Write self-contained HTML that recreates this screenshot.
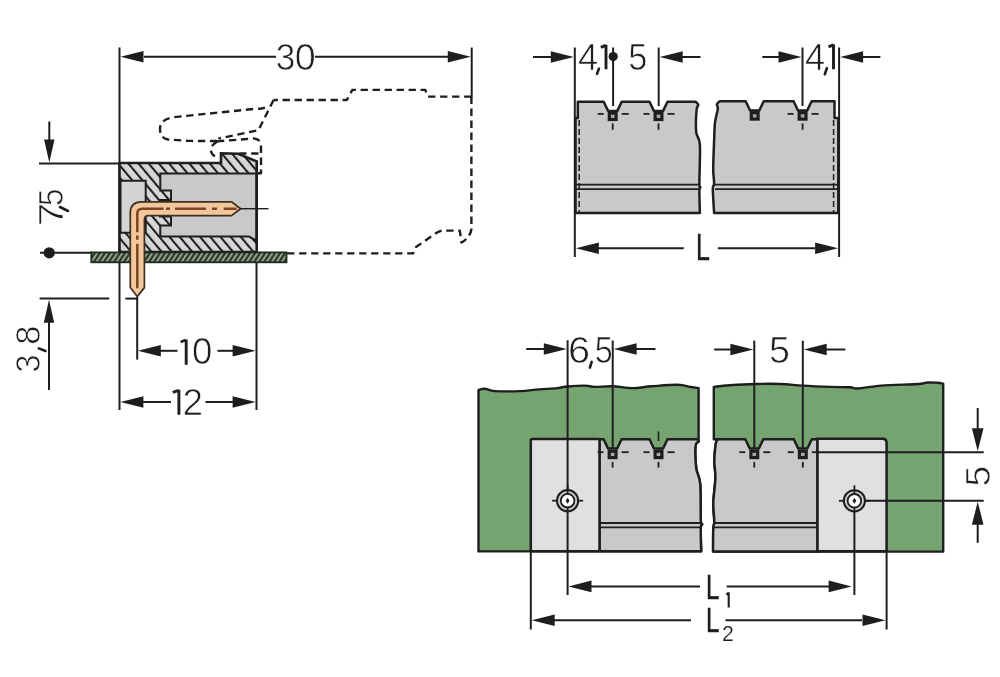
<!DOCTYPE html>
<html><head><meta charset="utf-8"><style>
html,body{margin:0;padding:0;background:#fff;}
svg{display:block;will-change:transform;}
text{font-family:"Liberation Sans",sans-serif;}
</style></head><body>
<svg width="1000" height="677" viewBox="0 0 1000 677">
<defs>
<pattern id="hatch" patternUnits="userSpaceOnUse" width="7.8" height="7.8" patternTransform="rotate(-40)">
<rect width="7.8" height="7.8" fill="#d5d6d8"/><line x1="1" y1="0" x2="1" y2="7.8" stroke="#1e1e1e" stroke-width="2.1"/></pattern>
<pattern id="pcbh" patternUnits="userSpaceOnUse" width="4.2" height="4.2" patternTransform="rotate(33)">
<rect width="4.2" height="4.2" fill="#2b3827"/><line x1="1" y1="0" x2="1" y2="4.2" stroke="#98a893" stroke-width="1.9"/></pattern>
</defs>
<rect width="1000" height="677" fill="#ffffff"/>
<g font-family="'Liberation Sans', sans-serif" fill="#1e1e1e">
<line x1="119.5" y1="47.5" x2="119.5" y2="410" stroke="#1e1e1e" stroke-width="2.0" />
<line x1="471.7" y1="47.5" x2="471.7" y2="97" stroke="#1e1e1e" stroke-width="2.0" />
<line x1="144" y1="56.7" x2="276" y2="56.7" stroke="#1e1e1e" stroke-width="2.0" />
<line x1="315" y1="56.7" x2="448" y2="56.7" stroke="#1e1e1e" stroke-width="2.0" />
<polygon points="120.5,56.7 143.5,50.9 143.5,62.5" fill="#1e1e1e"/>
<polygon points="470.8,56.7 447.8,50.9 447.8,62.5" fill="#1e1e1e"/>
<text transform="translate(275.63 69.88) scale(0.946 1)" font-size="37.17" stroke="#fff" stroke-width="0.7" >3</text>
<text transform="translate(294.74 69.88) scale(1.014 1)" font-size="37.17" stroke="#fff" stroke-width="0.7" >0</text>
<path d="M 471.4 96.6 L 428 96.6 L 425.3 89.9 L 352.4 89.9 L 346.8 100 L 273.6 100" fill="none" stroke="#1e1e1e" stroke-width="2.4" stroke-linejoin="round" stroke-dasharray="7.3,4.7"/>
<path d="M 471.4 96.6 L 471.4 229 Q 470.5 237 461.6 242.6 L 459.8 230.6 L 442 230.6 Q 437 232 432 236 L 416 247 Q 414.5 250 413 253.4 L 287 253.4" fill="none" stroke="#1e1e1e" stroke-width="2.4" stroke-linejoin="round" stroke-dasharray="7.3,4.7"/>
<path d="M 273.6 100 L 258.4 130.2 L 218.4 138.6" fill="none" stroke="#1e1e1e" stroke-width="2.4" stroke-linejoin="round" stroke-dasharray="7.3,4.7"/>
<path d="M 265 107.6 Q 261 109.2 253.6 108.9 L 172 117.4 Q 160 120 160 129 Q 160 138 168 139.5 L 188 140.9 L 217 141" fill="none" stroke="#1e1e1e" stroke-width="2.4" stroke-linejoin="round" stroke-dasharray="7.3,4.7"/>
<path d="M 217 141.4 L 253.6 138.4 Q 261 139 261 146 L 261 173.2 L 257 173.2" fill="none" stroke="#1e1e1e" stroke-width="2.4" stroke-linejoin="round" stroke-dasharray="7.3,4.7"/>
<path d="M 217.5 141.2 Q 207 148 213 155 L 216 157" fill="none" stroke="#1e1e1e" stroke-width="2.4" stroke-linejoin="round" stroke-dasharray="7.3,4.7"/>
<path d="M 239.2 153.5 L 261 153.5" fill="none" stroke="#1e1e1e" stroke-width="2.4" stroke-linejoin="round" stroke-dasharray="7.3,4.7"/>
<path d="M 119.5 163 L 221 163 L 221 153.3 L 238.2 153.8 L 256.7 161.4 L 256.7 252 L 119.5 252 Z" fill="url(#hatch)"/>
<path d="M 160.3 173.5 L 256.5 173.5 L 256.5 240.6 L 249 236.6 L 160.3 236.6 L 160.3 225.5 L 171 225.5 L 171 216.5 L 160 216.5 L 160 200 L 171 200 L 171 190.6 L 160.3 190.6 Z" fill="#c9c9cb" stroke="#1e1e1e" stroke-width="2"/>
<path d="M 120.5 180.8 L 145.7 180.8 L 145.7 232.8 L 120.5 232.8 Z" fill="#d3d4d6" stroke="#1e1e1e" stroke-width="2"/>
<path d="M 119.5 163 L 221 163 L 221 153.3 L 238.2 153.8 L 256.7 161.4 L 256.7 252 L 119.5 252 Z" fill="none" stroke="#1e1e1e" stroke-width="2.6"/>
<line x1="39" y1="163.6" x2="119.5" y2="163.6" stroke="#1e1e1e" stroke-width="2.0" />
<line x1="256.5" y1="252" x2="256.5" y2="410" stroke="#1e1e1e" stroke-width="2.0" />
<rect x="91.3" y="252.4" width="195.2" height="9.9" fill="url(#pcbh)" stroke="#1f2a1c" stroke-width="1.8"/>
<path d="M 137.2 296.6 L 130.3 287.6 L 130.3 213 Q 130.3 201.8 141.5 201.8 L 231.5 201.8 L 240.6 208.7 L 231.5 215.6 L 148.5 215.6 Q 144.4 215.6 144.4 219.7 L 144.4 287.6 Z" fill="#f3c79c" stroke="#3f3020" stroke-width="1.7" stroke-linejoin="round"/>
<path d="M 137.3 288.3 L 137.3 243.7 M 137.3 239.8 L 137.3 235.4 M 137.3 232.2 L 137.3 213.5 Q 137.3 208.7 142.1 208.7 L 163.6 208.7 M 166 208.7 L 170 208.7 M 175 208.7 L 206 208.7 M 212 208.7 L 217 208.7 M 223.7 208.7 L 236.7 208.7" fill="none" stroke="#7e4620" stroke-width="2.5"/>
<line x1="240" y1="208.7" x2="268.5" y2="208.7" stroke="#1e1e1e" stroke-width="1.4" />
<circle cx="49.2" cy="252.8" r="5.6" fill="#1e1e1e"/>
<line x1="40" y1="252.8" x2="92" y2="252.8" stroke="#1e1e1e" stroke-width="2.0" />
<line x1="49.3" y1="121.5" x2="49.3" y2="140" stroke="#1e1e1e" stroke-width="2.0" />
<polygon points="49.3,162.5 44.1,139.5 54.5,139.5" fill="#1e1e1e"/>
<line x1="39.6" y1="298.6" x2="109.2" y2="298.6" stroke="#1e1e1e" stroke-width="2.0" />
<line x1="125.4" y1="298.6" x2="137.5" y2="298.6" stroke="#1e1e1e" stroke-width="2.0" />
<polygon points="49.0,299.8 43.8,322.8 54.2,322.8" fill="#1e1e1e"/>
<line x1="49" y1="322" x2="49" y2="390" stroke="#1e1e1e" stroke-width="2.0" />
<line x1="137.2" y1="297" x2="137.2" y2="359.6" stroke="#1e1e1e" stroke-width="2.0" />
<text transform="translate(62.85 226.18) rotate(-90) scale(1.200 1)" font-size="35.35" stroke="#fff" stroke-width="0.7">7</text>
<text transform="translate(62.50 206.00) rotate(-90) scale(0.894 1)" font-size="34.84" stroke="#fff" stroke-width="0.7">5</text>
<line x1="60" y1="207" x2="68" y2="211" stroke="#1e1e1e" stroke-width="2.6" stroke-linecap="round"/>
<text transform="translate(39.71 372.46) rotate(-90) scale(0.942 1)" font-size="34.20" stroke="#fff" stroke-width="0.7">3</text>
<text transform="translate(39.71 344.81) rotate(-90) scale(1.008 1)" font-size="34.20" stroke="#fff" stroke-width="0.7">8</text>
<line x1="38.8" y1="348.4" x2="45.5" y2="351" stroke="#1e1e1e" stroke-width="2.6" stroke-linecap="round"/>
<polygon points="137.8,350.8 160.8,345.0 160.8,356.6" fill="#1e1e1e"/>
<line x1="160" y1="350.8" x2="177.5" y2="350.8" stroke="#1e1e1e" stroke-width="2.0" />
<path d="M 180.6 342.0 L 185.9 340.0 M 186.2 339.4 L 186.2 364.7" fill="none" stroke="#1e1e1e" stroke-width="2.9"/>
<text transform="translate(191.98 364.49) scale(1.005 1)" font-size="36.47" stroke="#fff" stroke-width="0.7" >0</text>
<line x1="217.5" y1="350.8" x2="236" y2="350.8" stroke="#1e1e1e" stroke-width="2.0" />
<polygon points="255.6,350.8 232.6,345.0 232.6,356.6" fill="#1e1e1e"/>
<polygon points="120.4,402.0 143.4,396.2 143.4,407.8" fill="#1e1e1e"/>
<line x1="143" y1="402" x2="171" y2="402" stroke="#1e1e1e" stroke-width="2.0" />
<path d="M 172.8 392.3 L 178.6 390.3 M 178.9 389.7 L 178.9 414.7" fill="none" stroke="#1e1e1e" stroke-width="2.9"/>
<text transform="translate(182.40 415.05) scale(1.002 1)" font-size="36.85" stroke="#fff" stroke-width="0.7" >2</text>
<line x1="205.5" y1="402" x2="236" y2="402" stroke="#1e1e1e" stroke-width="2.0" />
<polygon points="255.6,402.0 232.6,396.2 232.6,407.8" fill="#1e1e1e"/>
<path d="M 577.8 101.7 L 603.7 101.7 L 608.1 110.9 L 617.3 110.9 L 621.7 101.7 L 649.5 101.7 L 653.9 110.9 L 663.1 110.9 L 667.5 101.7 L 695.7 101.7 C 696.1 102.2 698.1 103.7 698.3 105.0 C 698.4 106.3 697.0 105.3 696.6 109.8 C 696.2 114.3 695.7 126.1 696.2 131.9 C 696.8 137.7 699.4 136.2 699.9 144.8 C 700.4 153.4 699.3 176.5 699.4 183.6 C 699.5 190.7 700.3 186.1 700.3 187.3 C 700.3 188.5 699.5 186.7 699.4 191.0 C 699.3 195.3 699.8 209.3 699.9 213.0 L 575.5 213 L 575.5 118 L 577.8 118 Z" fill="#c9c9cb" stroke="#1e1e1e" stroke-width="2.5" stroke-linejoin="round"/>
<line x1="579.2" y1="120" x2="579.2" y2="212" stroke="#1e1e1e" stroke-width="1.5" stroke-dasharray="6,3"/>
<line x1="576" y1="184.6" x2="700" y2="184.6" stroke="#1e1e1e" stroke-width="1.8" />
<line x1="576" y1="189.1" x2="700" y2="189.1" stroke="#1e1e1e" stroke-width="1.8" />
<path d="M 719.7 101.3 L 745.7 101.3 L 750.1 110.5 L 759.3 110.5 L 763.7 101.3 L 793.6 101.3 L 798.0 110.5 L 807.2 110.5 L 811.6 101.3 L 834.5 101.3 L 834.5 118.0 L 838.3 118.0 L 838.3 213.0 L 714.1 213.0 L 714.1 213.0 C 713.9 209.0 712.8 194.0 712.8 189.1 C 712.8 184.2 714.0 187.0 714.1 183.6 C 714.2 180.2 713.2 175.9 713.2 168.8 C 713.2 161.7 713.8 148.8 714.1 141.1 C 714.4 133.4 714.4 128.1 715.0 122.7 C 715.6 117.3 717.5 111.9 717.8 108.8 C 718.1 105.7 716.6 105.5 716.9 104.2 C 717.2 103.0 719.2 101.8 719.7 101.3 Z" fill="#c9c9cb" stroke="#1e1e1e" stroke-width="2.5" stroke-linejoin="round"/>
<line x1="833.6" y1="120" x2="833.6" y2="212" stroke="#1e1e1e" stroke-width="1.5" stroke-dasharray="6,3"/>
<line x1="715" y1="184.6" x2="838" y2="184.6" stroke="#1e1e1e" stroke-width="1.8" />
<line x1="715" y1="189.1" x2="838" y2="189.1" stroke="#1e1e1e" stroke-width="1.8" />
<rect x="609.3" y="113.1" width="6.8" height="6.4" fill="#a9a9a9" stroke="#1e1e1e" stroke-width="3.2"/>
<rect x="655.1" y="113.1" width="6.8" height="6.4" fill="#a9a9a9" stroke="#1e1e1e" stroke-width="3.2"/>
<rect x="751.3" y="112.7" width="6.8" height="6.4" fill="#a9a9a9" stroke="#1e1e1e" stroke-width="3.2"/>
<rect x="799.2" y="112.7" width="6.8" height="6.4" fill="#a9a9a9" stroke="#1e1e1e" stroke-width="3.2"/>
<line x1="597.7" y1="113.9" x2="603.7" y2="113.9" stroke="#1e1e1e" stroke-width="1.8" />
<line x1="621.7" y1="113.9" x2="628.7" y2="113.9" stroke="#1e1e1e" stroke-width="1.8" />
<line x1="612.7" y1="123.4" x2="612.7" y2="129.8" stroke="#1e1e1e" stroke-width="1.8" />
<line x1="643.5" y1="113.9" x2="649.5" y2="113.9" stroke="#1e1e1e" stroke-width="1.8" />
<line x1="667.5" y1="113.9" x2="674.5" y2="113.9" stroke="#1e1e1e" stroke-width="1.8" />
<line x1="658.5" y1="123.4" x2="658.5" y2="129.8" stroke="#1e1e1e" stroke-width="1.8" />
<line x1="787.6" y1="113.9" x2="793.6" y2="113.9" stroke="#1e1e1e" stroke-width="1.8" />
<line x1="811.6" y1="113.9" x2="818.6" y2="113.9" stroke="#1e1e1e" stroke-width="1.8" />
<line x1="802.6" y1="123.4" x2="802.6" y2="129.8" stroke="#1e1e1e" stroke-width="1.8" />
<line x1="574.8" y1="47.5" x2="574.8" y2="257" stroke="#1e1e1e" stroke-width="2.0" />
<line x1="613.1" y1="47.5" x2="613.1" y2="106" stroke="#1e1e1e" stroke-width="2.0" />
<line x1="658.7" y1="47.5" x2="658.7" y2="106" stroke="#1e1e1e" stroke-width="2.0" />
<line x1="802.5" y1="47.5" x2="802.5" y2="106" stroke="#1e1e1e" stroke-width="2.0" />
<line x1="839.1" y1="47.5" x2="839.1" y2="257" stroke="#1e1e1e" stroke-width="2.0" />
<circle cx="613.2" cy="56.6" r="4.6" fill="#1e1e1e"/>
<line x1="533" y1="57" x2="552" y2="57" stroke="#1e1e1e" stroke-width="2.0" />
<polygon points="573.8,57.0 550.8,51.2 550.8,62.8" fill="#1e1e1e"/>
<line x1="680" y1="57" x2="700.5" y2="57" stroke="#1e1e1e" stroke-width="2.0" />
<polygon points="659.7,57.0 682.7,51.2 682.7,62.8" fill="#1e1e1e"/>
<line x1="762.3" y1="57" x2="782" y2="57" stroke="#1e1e1e" stroke-width="2.0" />
<polygon points="801.5,57.0 778.5,51.2 778.5,62.8" fill="#1e1e1e"/>
<line x1="862" y1="57" x2="880.4" y2="57" stroke="#1e1e1e" stroke-width="2.0" />
<polygon points="840.1,57.0 863.1,51.2 863.1,62.8" fill="#1e1e1e"/>
<text transform="translate(578.03 69.55) scale(0.993 1)" font-size="36.51" stroke="#fff" stroke-width="0.7" >4</text>
<line x1="597.0" y1="73.8" x2="599.0" y2="68.6" stroke="#1e1e1e" stroke-width="2.6" stroke-linecap="round"/>
<path d="M 600.8 47.4 L 605.7 45.4 M 606.0 44.8 L 606.0 69.2" fill="none" stroke="#1e1e1e" stroke-width="2.9"/>
<text transform="translate(628.28 69.58) scale(0.924 1)" font-size="37.13" stroke="#fff" stroke-width="0.7" >5</text>
<text transform="translate(805.03 69.65) scale(0.966 1)" font-size="37.53" stroke="#fff" stroke-width="0.7" >4</text>
<line x1="824.8" y1="74.2" x2="826.9" y2="68.2" stroke="#1e1e1e" stroke-width="2.6" stroke-linecap="round"/>
<path d="M 828.5 46.8 L 833.2 44.8 M 833.5 44.2 L 833.5 69.3" fill="none" stroke="#1e1e1e" stroke-width="2.9"/>
<polygon points="575.8,248.2 598.8,242.4 598.8,254.0" fill="#1e1e1e"/>
<line x1="598" y1="248.2" x2="683.8" y2="248.2" stroke="#1e1e1e" stroke-width="2.0" />
<text transform="translate(695.89 260.25) scale(0.680 1)" font-size="36.65" stroke="#1e1e1e" stroke-width="0.5" >L</text>
<line x1="717.8" y1="248.2" x2="815" y2="248.2" stroke="#1e1e1e" stroke-width="2.0" />
<polygon points="838.1,248.2 815.1,242.4 815.1,254.0" fill="#1e1e1e"/>
<path d="M 478.5 390.0 C 479.6 389.8 482.2 388.6 485.0 388.8 C 487.8 389.0 489.2 390.7 495.0 391.1 C 500.8 391.5 512.7 391.4 520.0 391.1 C 527.3 390.8 532.5 389.9 538.8 389.4 C 545.0 388.9 552.7 388.6 557.5 388.1 C 562.3 387.6 562.9 386.9 567.5 386.5 C 572.1 386.1 580.4 385.5 585.0 385.6 C 589.6 385.7 590.4 386.8 595.0 386.9 C 599.6 387.0 606.2 386.1 612.5 386.3 C 618.8 386.5 626.0 388.1 632.5 388.1 C 639.0 388.1 643.8 386.9 651.3 386.3 C 658.8 385.8 671.0 384.7 677.5 384.8 C 684.0 384.9 686.5 386.3 690.0 386.9 C 693.5 387.4 697.2 387.9 698.6 388.1 L 698.6 439.3 L 698.6 441.5 C 698.1 442.2 696.0 441.5 695.6 446.0 C 695.2 450.5 695.5 462.2 696.3 468.5 C 697.1 474.8 699.5 475.2 700.2 483.8 C 701.0 492.4 700.5 513.7 700.8 520.4 C 701.1 527.1 702.2 522.9 702.2 524.2 C 702.2 525.5 701.0 523.5 700.8 528.0 C 700.6 532.5 701.1 547.4 701.2 551.3 L 478.5 551.4 Z" fill="#76a470" stroke="#1e1e1e" stroke-width="2.4" stroke-linejoin="round"/>
<path d="M 713.8 386.9 C 716.5 386.6 723.1 385.8 730.0 385.3 C 736.9 384.8 746.7 384.2 755.0 384.0 C 763.3 383.8 772.1 383.7 780.0 384.0 C 787.9 384.3 794.2 385.1 802.5 385.6 C 810.8 386.1 822.1 386.6 830.0 386.9 C 837.9 387.2 845.4 387.0 850.0 387.3 C 854.6 387.6 852.3 388.8 857.5 388.5 C 862.7 388.2 871.1 386.4 881.3 385.6 C 891.5 384.9 911.1 384.5 918.8 384.0 C 926.5 383.5 924.3 382.7 927.5 382.5 C 930.7 382.3 936.2 382.8 938.0 382.8 L 943.2 383.6 L 943.2 551.6 L 713.7 551.6 L 713.3 528.0 C 713.5 526.9 714.3 525.6 714.3 521.4 C 714.3 517.2 713.1 510.0 713.3 502.8 C 713.5 495.6 715.2 484.9 715.4 478.0 C 715.6 471.1 714.3 466.6 714.3 461.4 C 714.3 456.2 714.9 450.4 715.3 447.0 C 715.7 443.6 716.1 442.1 716.6 440.8 C 717.1 439.5 718.2 439.6 718.5 439.3 L 713.8 439.3 Z" fill="#76a470" stroke="#1e1e1e" stroke-width="2.4" stroke-linejoin="round"/>
<path d="M 599.5 439.3 L 603.6 439.3 L 608.0 448.5 L 617.2 448.5 L 621.6 439.3 L 649.5 439.3 L 653.9 448.5 L 663.1 448.5 L 667.5 439.3 L 697.6 439.3 C 697.8 439.7 698.9 440.4 698.6 441.5 C 698.3 442.6 696.0 441.5 695.6 446.0 C 695.2 450.5 695.5 462.2 696.3 468.5 C 697.1 474.8 699.5 475.2 700.2 483.8 C 701.0 492.4 700.5 513.7 700.8 520.4 C 701.1 527.1 702.2 522.9 702.2 524.2 C 702.2 525.5 701.0 523.5 700.8 528.0 C 700.6 532.5 701.1 547.4 701.2 551.3 L 599.5 551.3 Z" fill="#c9c9cb" stroke="#1e1e1e" stroke-width="2.5" stroke-linejoin="round"/>
<line x1="600" y1="523" x2="701" y2="523" stroke="#1e1e1e" stroke-width="1.8" />
<line x1="600" y1="527.4" x2="701" y2="527.4" stroke="#1e1e1e" stroke-width="1.8" />
<rect x="530.8" y="438.9" width="68.7" height="112.4" rx="1.5" fill="#dfe0e2" stroke="#1e1e1e" stroke-width="2.5"/>
<path d="M 718.0 439.3 L 745.3 439.3 L 749.7 448.5 L 758.9 448.5 L 763.3 439.3 L 793.8 439.3 L 798.2 448.5 L 807.4 448.5 L 811.8 439.3 L 817.5 439.3 L 817.5 551.4 L 713.7 551.4 L 713.0 551.4 C 713.0 547.5 713.1 533.0 713.3 528.0 C 713.5 523.0 714.3 525.6 714.3 521.4 C 714.3 517.2 713.1 510.0 713.3 502.8 C 713.5 495.6 715.2 484.9 715.4 478.0 C 715.6 471.1 714.3 466.6 714.3 461.4 C 714.3 456.2 714.9 450.4 715.3 447.0 C 715.7 443.6 716.1 442.1 716.6 440.8 C 717.1 439.5 718.2 439.6 718.5 439.3 Z" fill="#c9c9cb" stroke="#1e1e1e" stroke-width="2.5" stroke-linejoin="round"/>
<line x1="713" y1="523" x2="817" y2="523" stroke="#1e1e1e" stroke-width="1.8" />
<line x1="713" y1="527.4" x2="817" y2="527.4" stroke="#1e1e1e" stroke-width="1.8" />
<path d="M 817.5 438.8 L 882.4 438.8 Q 886.6 438.8 886.6 443 L 886.6 551.2 L 817.5 551.2 Z" fill="#dfe0e2" stroke="#1e1e1e" stroke-width="2.5"/>
<rect x="609.2" y="451.2" width="6.8" height="6.4" fill="#a9a9a9" stroke="#1e1e1e" stroke-width="3.2"/>
<rect x="655.1" y="451.2" width="6.8" height="6.4" fill="#a9a9a9" stroke="#1e1e1e" stroke-width="3.2"/>
<rect x="750.9" y="451.2" width="6.8" height="6.4" fill="#a9a9a9" stroke="#1e1e1e" stroke-width="3.2"/>
<rect x="799.4" y="451.2" width="6.8" height="6.4" fill="#a9a9a9" stroke="#1e1e1e" stroke-width="3.2"/>
<line x1="597.6" y1="452.2" x2="603.6" y2="452.2" stroke="#1e1e1e" stroke-width="1.8" />
<line x1="621.6" y1="452.2" x2="628.6" y2="452.2" stroke="#1e1e1e" stroke-width="1.8" />
<line x1="612.6" y1="461.9" x2="612.6" y2="467.6" stroke="#1e1e1e" stroke-width="1.8" />
<line x1="643.5" y1="452.2" x2="649.5" y2="452.2" stroke="#1e1e1e" stroke-width="1.8" />
<line x1="667.5" y1="452.2" x2="674.5" y2="452.2" stroke="#1e1e1e" stroke-width="1.8" />
<line x1="658.5" y1="461.9" x2="658.5" y2="467.6" stroke="#1e1e1e" stroke-width="1.8" />
<line x1="739.3" y1="452.2" x2="745.3" y2="452.2" stroke="#1e1e1e" stroke-width="1.8" />
<line x1="763.3" y1="452.2" x2="770.3" y2="452.2" stroke="#1e1e1e" stroke-width="1.8" />
<line x1="754.3" y1="461.9" x2="754.3" y2="467.6" stroke="#1e1e1e" stroke-width="1.8" />
<line x1="787.8" y1="452.2" x2="793.8" y2="452.2" stroke="#1e1e1e" stroke-width="1.8" />
<line x1="811.8" y1="452.2" x2="818.8" y2="452.2" stroke="#1e1e1e" stroke-width="1.8" />
<line x1="802.8" y1="461.9" x2="802.8" y2="467.6" stroke="#1e1e1e" stroke-width="1.8" />
<line x1="567.6" y1="340.3" x2="567.6" y2="595" stroke="#1e1e1e" stroke-width="2.0" />
<line x1="612.7" y1="340.5" x2="612.7" y2="449" stroke="#1e1e1e" stroke-width="2.0" />
<line x1="658.5" y1="431.5" x2="658.5" y2="441" stroke="#1e1e1e" stroke-width="1.6" />
<line x1="754.3" y1="340.6" x2="754.3" y2="449" stroke="#1e1e1e" stroke-width="2.0" />
<line x1="802.8" y1="340.6" x2="802.8" y2="449" stroke="#1e1e1e" stroke-width="2.0" />
<line x1="530.8" y1="551" x2="530.8" y2="629.5" stroke="#1e1e1e" stroke-width="2.0" />
<line x1="886.6" y1="551" x2="886.6" y2="629.5" stroke="#1e1e1e" stroke-width="2.0" />
<line x1="854.4" y1="511" x2="854.4" y2="595" stroke="#1e1e1e" stroke-width="2.0" />
<line x1="817.5" y1="452.2" x2="983.7" y2="452.2" stroke="#1e1e1e" stroke-width="2.0" />
<line x1="865" y1="500.8" x2="983.7" y2="500.8" stroke="#1e1e1e" stroke-width="2.0" />
<circle cx="567.6" cy="500.7" r="10.6" fill="#cdcdcf" stroke="#1e1e1e" stroke-width="2.0"/>
<circle cx="567.6" cy="500.7" r="6.8" fill="#ffffff" stroke="#1e1e1e" stroke-width="1.8"/>
<polygon points="567.6,497.7 569.5,500.7 567.6,503.7 565.7,500.7" fill="#1e1e1e"/>
<line x1="552.1" y1="500.7" x2="557.6" y2="500.7" stroke="#1e1e1e" stroke-width="1.8" />
<line x1="577.6" y1="500.7" x2="583.1" y2="500.7" stroke="#1e1e1e" stroke-width="1.8" />
<line x1="567.6" y1="485.2" x2="567.6" y2="494.7" stroke="#1e1e1e" stroke-width="1.8" />
<line x1="567.6" y1="506.7" x2="567.6" y2="511.7" stroke="#1e1e1e" stroke-width="1.8" />
<circle cx="854.4" cy="500.8" r="10.6" fill="#cdcdcf" stroke="#1e1e1e" stroke-width="2.0"/>
<circle cx="854.4" cy="500.8" r="6.8" fill="#ffffff" stroke="#1e1e1e" stroke-width="1.8"/>
<polygon points="854.4,497.8 856.3,500.8 854.4,503.8 852.5,500.8" fill="#1e1e1e"/>
<line x1="838.9" y1="500.8" x2="844.4" y2="500.8" stroke="#1e1e1e" stroke-width="1.8" />
<line x1="864.4" y1="500.8" x2="869.9" y2="500.8" stroke="#1e1e1e" stroke-width="1.8" />
<line x1="854.4" y1="485.3" x2="854.4" y2="494.8" stroke="#1e1e1e" stroke-width="1.8" />
<line x1="854.4" y1="506.8" x2="854.4" y2="511.8" stroke="#1e1e1e" stroke-width="1.8" />
<line x1="526.2" y1="349" x2="545" y2="349" stroke="#1e1e1e" stroke-width="2.0" />
<polygon points="566.8,349.0 543.8,343.2 543.8,354.8" fill="#1e1e1e"/>
<line x1="636" y1="349" x2="655.5" y2="349" stroke="#1e1e1e" stroke-width="2.0" />
<polygon points="613.6,349.0 636.6,343.2 636.6,354.8" fill="#1e1e1e"/>
<text transform="translate(567.96 362.69) scale(1.104 1)" font-size="36.04" stroke="#fff" stroke-width="0.7" >6</text>
<line x1="589.9" y1="367.6" x2="591.7" y2="361.9" stroke="#1e1e1e" stroke-width="2.6" stroke-linecap="round"/>
<text transform="translate(594.65 362.68) scale(0.887 1)" font-size="36.56" stroke="#fff" stroke-width="0.7" >5</text>
<line x1="714.2" y1="349.5" x2="733" y2="349.5" stroke="#1e1e1e" stroke-width="2.0" />
<polygon points="753.4,349.5 730.4,343.7 730.4,355.3" fill="#1e1e1e"/>
<line x1="825" y1="349.5" x2="845.4" y2="349.5" stroke="#1e1e1e" stroke-width="2.0" />
<polygon points="803.7,349.5 826.7,343.7 826.7,355.3" fill="#1e1e1e"/>
<text transform="translate(769.04 362.68) scale(1.019 1)" font-size="36.99" stroke="#fff" stroke-width="0.7" >5</text>
<line x1="977.7" y1="408" x2="977.7" y2="430" stroke="#1e1e1e" stroke-width="2.0" />
<polygon points="977.7,451.3 971.9,428.3 983.5,428.3" fill="#1e1e1e"/>
<polygon points="977.7,501.7 971.9,524.7 983.5,524.7" fill="#1e1e1e"/>
<line x1="977.7" y1="524" x2="977.7" y2="542.8" stroke="#1e1e1e" stroke-width="2.0" />
<text transform="translate(989.89 486.44) rotate(-90) scale(1.040 1)" font-size="35.84" stroke="#fff" stroke-width="0.7">5</text>
<polygon points="568.5,586.4 591.5,580.6 591.5,592.2" fill="#1e1e1e"/>
<line x1="590" y1="586.4" x2="700" y2="586.4" stroke="#1e1e1e" stroke-width="2.0" />
<text transform="translate(705.97 599.05) scale(0.680 1)" font-size="35.35" stroke="#1e1e1e" stroke-width="0.5" >L</text>
<path d="M 726.4 594.8 L 728.4 592.8 M 728.7 592.2 L 728.7 607.6" fill="none" stroke="#1e1e1e" stroke-width="2.1"/>
<line x1="726.7" y1="586.4" x2="830" y2="586.4" stroke="#1e1e1e" stroke-width="2.0" />
<polygon points="851.6,586.4 828.6,580.6 828.6,592.2" fill="#1e1e1e"/>
<polygon points="531.7,620.2 554.7,614.4 554.7,626.0" fill="#1e1e1e"/>
<line x1="553" y1="620.2" x2="691" y2="620.2" stroke="#1e1e1e" stroke-width="2.0" />
<text transform="translate(705.97 631.55) scale(0.680 1)" font-size="35.35" stroke="#1e1e1e" stroke-width="0.5" >L</text>
<text transform="translate(721.93 640.80) scale(0.959 1)" font-size="22.22" stroke="#fff" stroke-width="0.2" >2</text>
<line x1="725.5" y1="620.2" x2="862" y2="620.2" stroke="#1e1e1e" stroke-width="2.0" />
<polygon points="885.5,620.2 862.5,614.4 862.5,626.0" fill="#1e1e1e"/>
</g>
</svg>
</body></html>
